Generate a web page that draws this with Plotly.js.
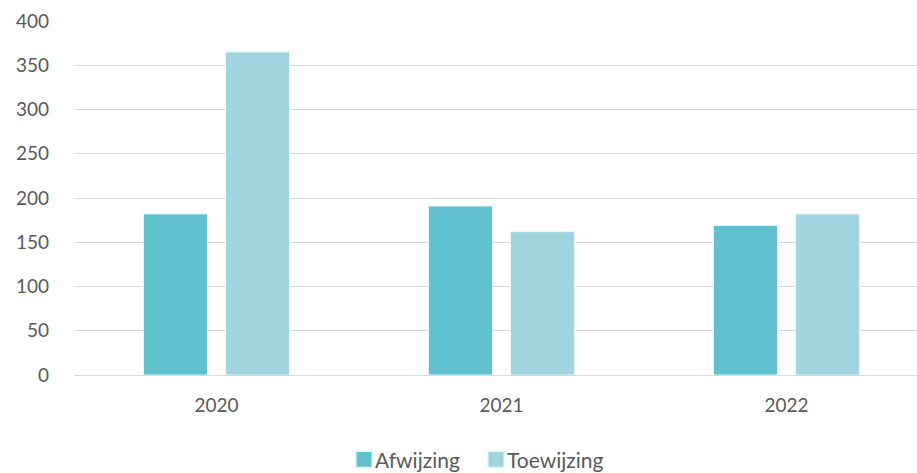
<!DOCTYPE html>
<html>
<head>
<meta charset="utf-8">
<script src="https://cdn.plot.ly/plotly-3.0.1.min.js"></script>
<style>
  html, body { margin: 0; padding: 0; background: #ffffff; }
  #chart { width: 917px; height: 473px; }
</style>
</head>
<body>
<div id="chart"></div>
<script>
// Jaartallen en aantallen per uitkomst
const years = ['2020', '2021', '2022'];
const afwijzing = [182, 191, 169];
const toewijzing = [365, 162, 182];
const yTicks = [0, 50, 100, 150, 200, 250, 300, 350, 400];

const textColor = '#595959';
const gridColor = '#D9D9D9';

const traces = [
  {
    type: 'bar',
    name: 'Afwijzing',
    x: years,
    y: afwijzing,
    marker: { color: '#62C1CF', line: { color: '#E4F4F7', width: 1 } },
    hoverinfo: 'x+y+name'
  },
  {
    type: 'bar',
    name: 'Toewijzing',
    x: years,
    y: toewijzing,
    marker: { color: '#A0D5E0', line: { color: '#EAF6F8', width: 1 } },
    hoverinfo: 'x+y+name'
  }
];

const layout = {
  width: 917,
  height: 473,
  margin: { l: 74, r: 0, t: 21, b: 98, pad: 0 },
  paper_bgcolor: '#ffffff',
  plot_bgcolor: '#ffffff',
  font: { family: 'Lato, "Open Sans", sans-serif', size: 19, color: textColor },
  barmode: 'group',
  bargap: 0.4246,
  bargroupgap: 0.2195,
  xaxis: {
    type: 'category',
    range: [-0.5, 2.458],
    showgrid: false,
    showline: false,
    zeroline: false,
    ticks: '',
    ticklabelstandoff: 17,
    tickfont: { size: 19, color: textColor }
  },
  yaxis: {
    range: [0, 400],
    tickvals: yTicks,
    ticktext: yTicks.map(String),
    showgrid: true,
    gridcolor: gridColor,
    gridwidth: 1,
    zeroline: true,
    zerolinecolor: gridColor,
    zerolinewidth: 1,
    showline: false,
    ticks: '',
    ticklabelstandoff: 24,
    tickfont: { size: 19, color: textColor }
  },
  showlegend: true,
  legend: {
    orientation: 'h',
    xref: 'container',
    yref: 'container',
    x: 335 / 917,
    xanchor: 'left',
    y: 0.028,
    yanchor: 'middle',
    font: { size: 21, color: textColor },
    entrywidth: 87,
    entrywidthmode: 'pixels',
    traceorder: 'normal'
  }
};

const gd = document.getElementById('chart');
Plotly.newPlot(gd, traces, layout, { displayModeBar: false, staticPlot: true }).then(() => {
  // Let the last legend label run past the fixed entry width
  gd.querySelectorAll('.legend [clip-path]').forEach(el => el.removeAttribute('clip-path'));
  // Larger legend swatches sitting close to their labels
  gd.querySelectorAll('.legend .traces').forEach(item => {
    const txt = item.querySelector('.legendtext');
    const sw = item.querySelector('.legendpoints path');
    if (!txt || !sw) return;
    const tr = txt.getBoundingClientRect();
    const sr = sw.getBoundingClientRect();
    const cx = sr.left + sr.width / 2;
    const dx = (tr.left - 11) - cx;
    const base = sw.getAttribute('transform') || '';
    sw.setAttribute('transform', 'translate(' + dx + ',0) ' + base + ' scale(1.35)');
  });
});
</script>
</body>
</html>
